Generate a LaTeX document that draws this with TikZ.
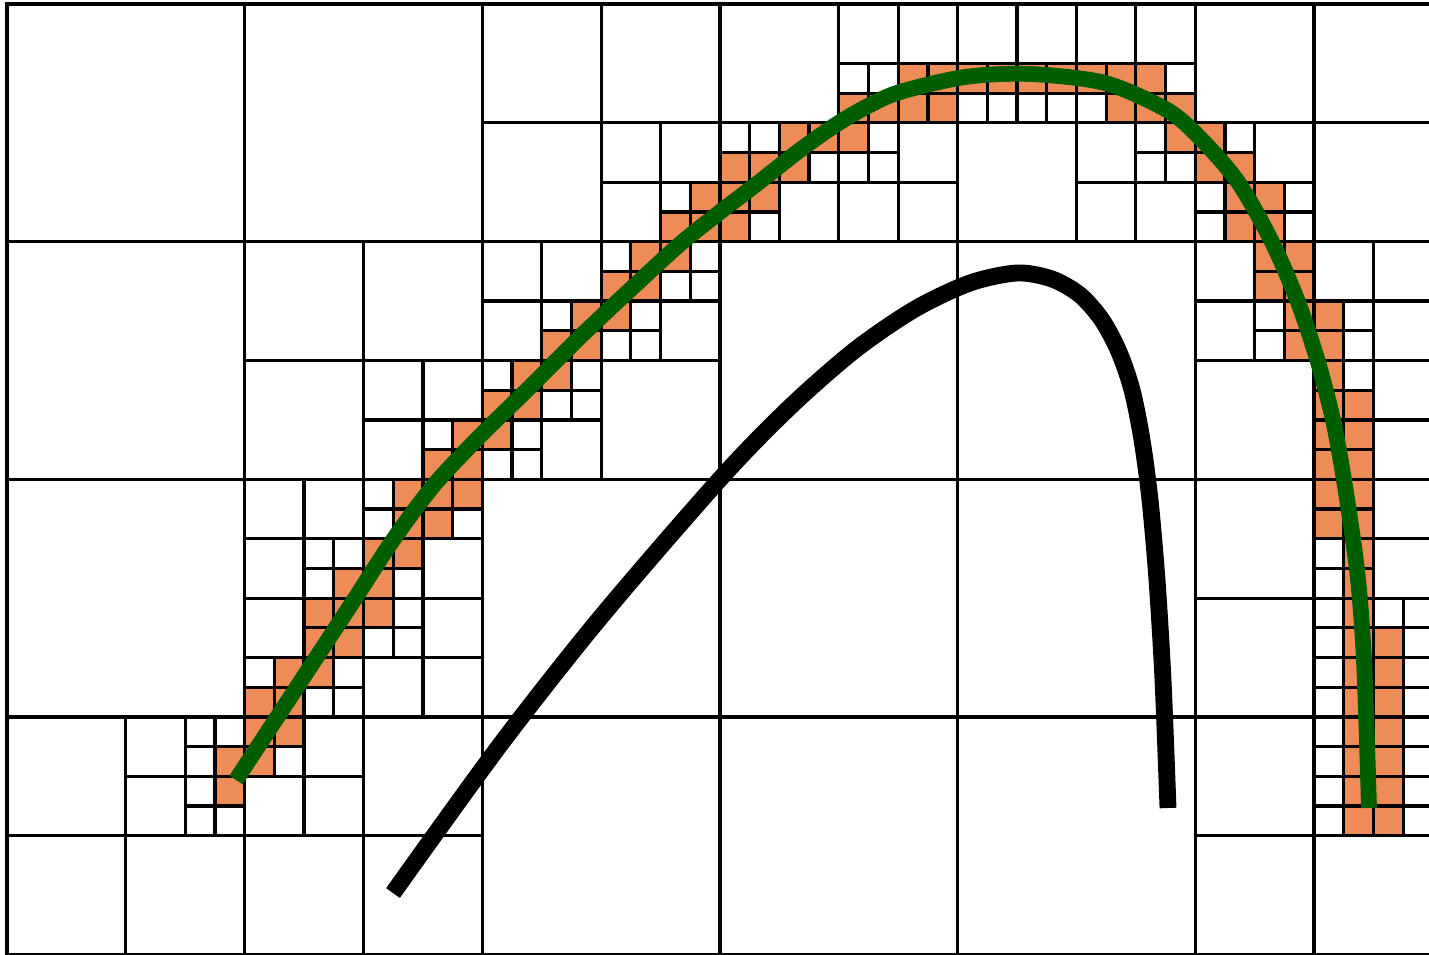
\documentclass[tikz,border=0pt]{standalone}
\definecolor{cellorange}{RGB}{238,140,88}
\definecolor{curvegreen}{RGB}{0,94,0}
\tikzset{
  gridline/.style={draw=black, line width=4.6pt},
  hotcell/.style={fill=cellorange},
  fatcurve/.style={line cap=butt, line join=round},
}
\begin{document}
\begin{tikzpicture}[x=0.05cm, y=-0.05cm]
\useasboundingbox (0,0) rectangle (1429,954);
\begin{scope}
\clip (0,0) rectangle (1429,954);
\begin{scope}[shift={(7,4)}, x=1.4854cm, y=-1.4854cm]
% orange eighth cells
\foreach \i/\j in {23/6,22/7,23/7,
  28/3,29/3,30/2,31/2,30/3,31/3,24/5,25/5,26/4,27/4,26/5,24/6,25/6,24/7,28/4,
  32/2,33/2,34/2,35/2,36/2,37/2,37/3,38/2,38/3,39/3,39/4,
  40/4,40/5,41/5,41/6,41/7,42/6,42/7,
  15/14,14/15,15/15,
  19/10,18/11,19/11,21/8,20/9,21/9,22/8,20/10,17/12,16/13,17/13,18/12,16/14,
  42/8,43/8,42/9,43/9,43/10,43/11,44/10,44/11,44/12,44/13,45/13,44/14,45/14,44/15,45/15,
  13/16,14/16,15/16,13/17,14/17,11/19,12/18,13/18,12/19,10/20,11/20,10/21,11/21,12/20,9/22,8/23,9/23,10/22,
  44/16,45/16,44/17,45/17,45/18,45/19,45/20,45/21,46/21,45/22,46/22,45/23,46/23,
  7/25,7/26,
  8/24,9/24,8/25,
  45/24,46/24,45/25,46/25,45/26,46/26,45/27,46/27}
  {\fill[hotcell] (\i,\j) rectangle ++(1,1);
   \draw[gridline] (\i,\j) rectangle ++(1,1);}
% white eighth cells
\foreach \i/\j in {22/6,
  28/2,29/2,24/4,25/4,27/5,25/7,29/4,28/5,29/5,
  32/3,33/3,34/3,35/3,36/3,39/2,38/4,38/5,39/5,
  41/4,40/6,40/7,43/6,43/7,
  14/14,
  18/10,20/8,23/8,22/9,23/9,21/10,20/11,21/11,16/12,19/12,18/13,19/13,17/14,16/15,17/15,
  42/10,42/11,45/10,45/11,45/12,
  12/16,12/17,15/17,10/18,11/18,10/19,13/19,13/20,12/21,13/21,8/22,11/22,10/23,11/23,
  44/18,44/19,44/20,46/20,47/20,44/21,47/21,44/22,47/22,44/23,47/23,
  6/24,7/24,6/25,6/26,6/27,7/27,
  9/25,
  44/24,44/25,44/26,44/27,47/24,47/25,47/26,47/27}
  {\draw[gridline] (\i,\j) rectangle ++(1,1);}
% quarter cells
\foreach \i/\j in {20/4,22/4,20/6,28/0,30/0,26/6,30/4,28/6,30/6,
  32/0,34/0,36/0,38/0,36/4,36/6,38/6,42/4,12/12,14/12,12/14,
  16/8,18/8,16/10,22/10,18/14,40/8,40/10,44/8,46/8,46/10,46/12,46/14,
  8/16,10/16,8/18,14/18,8/20,14/20,12/22,14/22,46/16,46/18,
  4/24,4/26,10/24,8/26,10/26}
  {\draw[gridline] (\i,\j) rectangle ++(2,2);}
% half cells
\foreach \i/\j in {16/0,20/0,16/4,24/0,32/4,40/0,44/0,44/4,8/8,12/8,8/12,
  20/12,40/12,40/16,40/20,0/24,0/28,4/28,12/24,8/28,12/28,40/24,40/28,44/28}
  {\draw[gridline] (\i,\j) rectangle ++(4,4);}
% full cells
\foreach \i/\j in {0/0,8/0,0/8,0/16,24/8,32/8,16/16,24/16,32/16,16/24,24/24,32/24}
  {\draw[gridline] (\i,\j) rectangle ++(8,8);}
\end{scope}
% curves
\draw[fatcurve, curvegreen, line width=22.5pt] plot[smooth, tension=0.5] coordinates {
  (236,780) (278,716) (318,655) (356,597) (393,540) (434,485) (480,436)
  (530,387) (582,335) (632,288) (680,244) (720,212) (758,183) (800,150)
  (837,124) (868,106) (900,92) (965,77) (1030,74) (1105,83) (1167,110)
  (1200,138) (1238,182) (1272,242) (1298,302) (1318,362) (1333,420)
  (1344,480) (1357,570) (1364,660) (1369,808)};
\draw[fatcurve, black, line width=24pt] plot[smooth, tension=0.5] coordinates {
  (393,893) (500,745) (600,618) (720,479) (790,407) (855,350) (915,309)
  (970,283) (1017,273) (1052,279) (1080,295) (1102,320) (1119,352)
  (1132,390) (1142,440) (1150,500) (1157,580) (1163,680) (1168,808)};
\end{scope}
\end{tikzpicture}
\end{document}
